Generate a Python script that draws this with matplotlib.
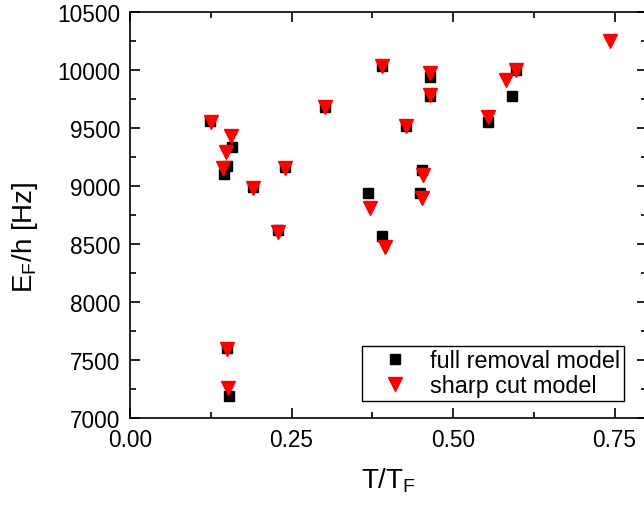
import matplotlib
matplotlib.use('Agg')
import matplotlib.pyplot as plt
from matplotlib.ticker import MultipleLocator

plt.rcParams['font.family'] = ['Liberation Sans', 'DejaVu Sans']
plt.rcParams['mathtext.fontset'] = 'custom'
plt.rcParams['mathtext.rm'] = 'Liberation Sans'
plt.rcParams['mathtext.it'] = 'Liberation Sans:italic'

# full removal model (black squares)
full_t = [0.124, 0.158, 0.150, 0.146, 0.190, 0.240, 0.229, 0.150, 0.153, 0.302, 0.390,
          0.464, 0.464, 0.427, 0.452, 0.449, 0.368, 0.390, 0.597, 0.591, 0.554]
full_e = [9560, 9336, 9172, 9103, 8991, 9164, 8621, 7603, 7190, 9681, 10034,
          9940, 9780, 9517, 9138, 8940, 8940, 8569, 10000, 9776, 9552]

# sharp cut model (red triangles)
sharp_t = [0.125, 0.156, 0.149, 0.144, 0.190, 0.240, 0.229, 0.150, 0.152, 0.302, 0.390,
           0.464, 0.464, 0.427, 0.453, 0.452, 0.371, 0.395, 0.597, 0.582, 0.743, 0.554]
sharp_e = [9552, 9431, 9293, 9155, 8983, 9155, 8603, 7595, 7259, 9681, 10034,
           9974, 9784, 9517, 9095, 8897, 8810, 8474, 10000, 9914, 10250, 9595]

fig = plt.figure(figsize=(6.44, 5.06), dpi=100)
ax = fig.add_axes([130 / 644, 87 / 506, 516.8 / 644, 406 / 506])

ax.plot(full_t, full_e, 's', color='black', ms=7, ls='none', label='full removal model')
ax.plot(sharp_t, sharp_e, 'v', color='red', ms=9.5, ls='none', label='sharp cut model')

ax.set_xlim(0, 0.8)
ax.set_ylim(7000, 10500)
ax.xaxis.set_minor_locator(MultipleLocator(0.125))
ax.yaxis.set_major_locator(MultipleLocator(500))
ax.yaxis.set_minor_locator(MultipleLocator(250))
ax.set_xticks([0, 0.25, 0.5, 0.75])
ax.set_xticklabels(['0.00', '0.25', '0.50', '0.75'])

for s in ax.spines.values():
    s.set_linewidth(1.2)
ax.tick_params(which='both', direction='in', top=True, right=True, width=1.2, labelsize=16.3)
ax.tick_params(which='major', length=7, pad=7)
ax.tick_params(which='minor', length=4)

ax.set_xlabel(r'$\mathregular{T/T_F}$', fontsize=20)
ax.set_ylabel(r'$\mathregular{E_F/h\ [Hz]}$', fontsize=20)
ax.xaxis.set_label_coords(0.5, -0.118)
ax.yaxis.set_label_coords(-0.175, 0.448)

leg = ax.legend(loc='lower left', bbox_to_anchor=(0.449, 0.042), fontsize=16.8,
                fancybox=False, framealpha=1, edgecolor='black', borderpad=0.15,
                handlelength=2.5, handletextpad=0.26, labelspacing=0.1, borderaxespad=0)
leg.get_frame().set_linewidth(1.0)

fig.savefig('out.png', dpi=100)
